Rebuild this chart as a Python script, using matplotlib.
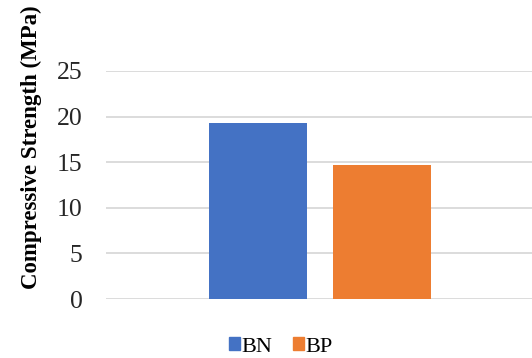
import matplotlib
matplotlib.use("Agg")
import matplotlib.pyplot as plt
from matplotlib.patches import Patch

series = ["BN", "BP"]
values = [19.3, 14.65]
colors = ["#4472C4", "#ED7D31"]
yticks = [0, 5, 10, 15, 20, 25]

plt.rcParams['font.family'] = ['Liberation Serif', 'DejaVu Serif']

fig = plt.figure(figsize=(5.32, 3.58), dpi=100)
ax = fig.add_axes([106/532, 1-299/358, 426/532, 228/358])

offsets = [-0.143, 0.147]
for off, v, c in zip(offsets, values, colors):
    ax.bar(off, v, width=0.23, color=c, zorder=3)

ax.set_xlim(-0.5, 0.5)
ax.set_ylim(0, 25)
ax.set_yticks(yticks)
ax.set_yticklabels([str(t) for t in yticks], fontsize=18.5, color="#262626")
ax.set_xticks([])
ax.tick_params(axis='y', length=0, pad=17)
ax.grid(axis='y', color="#d9d9d9", linewidth=1.3, zorder=0)
for s in ax.spines.values():
    s.set_visible(False)

fig.text(31/532, 1-147/358, "Compressive Strength (MPa)", rotation=90,
         fontsize=16.5, fontweight='bold', ha='center', va='center')

handles = [Patch(color=c, label=s) for s, c in zip(series, colors)]
fig.legend(handles=handles, loc='center', bbox_to_anchor=(281/532, 1-347/358),
           ncol=2, frameon=False, fontsize=16, handlelength=0.5, handleheight=0.5,
           handletextpad=0.06, columnspacing=0.95)

fig.savefig("out.png", dpi=100)
